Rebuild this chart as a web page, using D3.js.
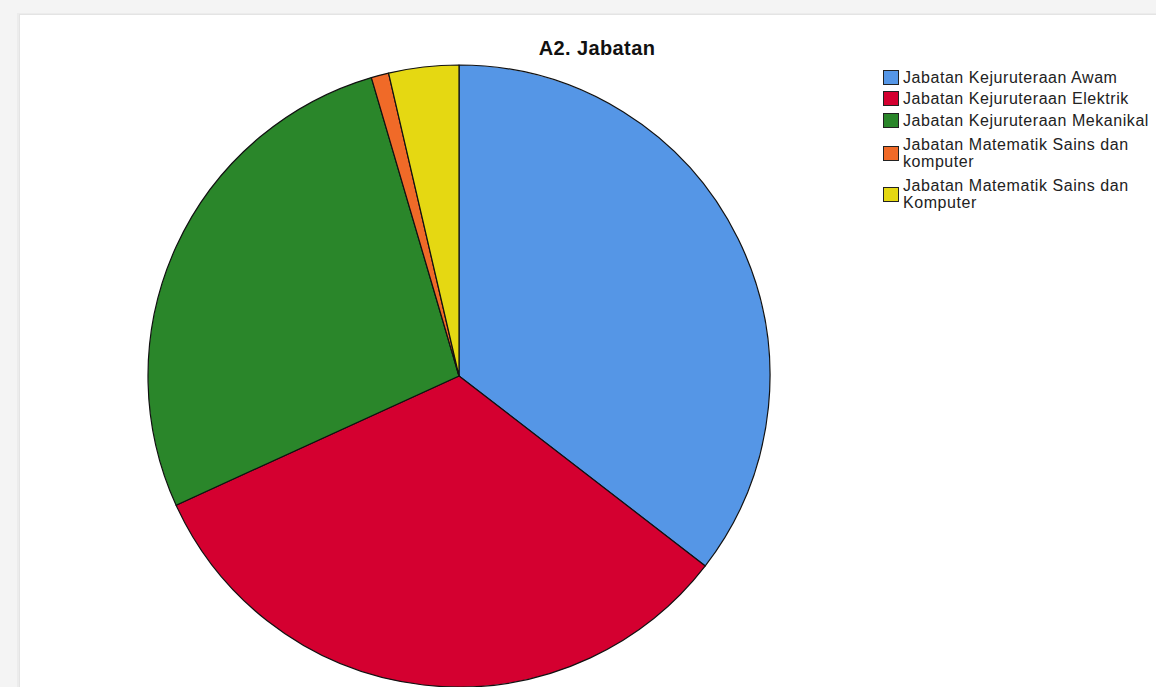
<!DOCTYPE html>
<html><head><meta charset="utf-8">
<script src="https://cdn.jsdelivr.net/npm/d3@7"></script>
<style>body{margin:0;background:#fff;}svg{display:block;}</style>
</head><body>
<script>
const categories = ["Jabatan Kejuruteraan Awam","Jabatan Kejuruteraan Elektrik","Jabatan Kejuruteraan Mekanikal","Jabatan Matematik Sains dan komputer","Jabatan Matematik Sains dan Komputer"];
const legendLines = [["Jabatan Kejuruteraan Awam"],["Jabatan Kejuruteraan Elektrik"],["Jabatan Kejuruteraan Mekanikal"],["Jabatan Matematik Sains dan","komputer"],["Jabatan Matematik Sains dan","Komputer"]];
const counts = [39, 36, 30, 1, 4];
const colors = ["#5596e6","#d40030","#2a862a","#f06a28","#e5d812"];
const title = "A2. Jabatan";

const W=1156,H=687;
const svg=d3.select("body").append("svg").attr("width",W).attr("height",H);
// frame shading
svg.append("rect").attr("width",W).attr("height",H).attr("fill","#f4f4f4");
svg.append("rect").attr("x",17).attr("y",13).attr("width",W).attr("height",H).attr("fill","#ececec");
svg.append("rect").attr("x",19).attr("y",14).attr("width",W).attr("height",H).attr("fill","#e4e4e4");
svg.append("rect").attr("x",20).attr("y",15).attr("width",W).attr("height",H).attr("fill","#fff");

svg.append("text").attr("x",597).attr("y",55).attr("text-anchor","middle")
 .attr("font-family","Liberation Sans, Arial, sans-serif").attr("font-weight","bold").attr("font-size",20)
 .attr("letter-spacing",0.4).attr("fill","#111").text(title);

const data=categories.map((c,i)=>({c,v:counts[i],col:colors[i]}));
const pie=d3.pie().value(d=>d.v).sort(null);
const arc=d3.arc().innerRadius(0).outerRadius(311);
const g=svg.append("g").attr("transform","translate(459,376)");
g.selectAll("path").data(pie(data)).join("path").attr("d",arc)
 .attr("fill",d=>d.data.col).attr("stroke","#111").attr("stroke-width",1.2).attr("stroke-linejoin","round");

const lg=svg.append("g").attr("font-family","Liberation Sans, Arial, sans-serif").attr("font-size",16)
 .attr("letter-spacing",0.55).attr("fill","#222");
const swY=[70,91,113,146,187];
data.forEach((d,i)=>{
  lg.append("rect").attr("x",883.5).attr("y",swY[i]+0.5).attr("width",15).attr("height",14)
   .attr("fill",d.col).attr("stroke","#222").attr("stroke-width",1);
  const lines=legendLines[i];
  const y0 = lines.length===1 ? swY[i]+13 : swY[i]+4;
  lines.forEach((t,j)=>{
    lg.append("text").attr("x",903).attr("y",y0+j*17).text(t);
  });
});
</script>
</body></html>
